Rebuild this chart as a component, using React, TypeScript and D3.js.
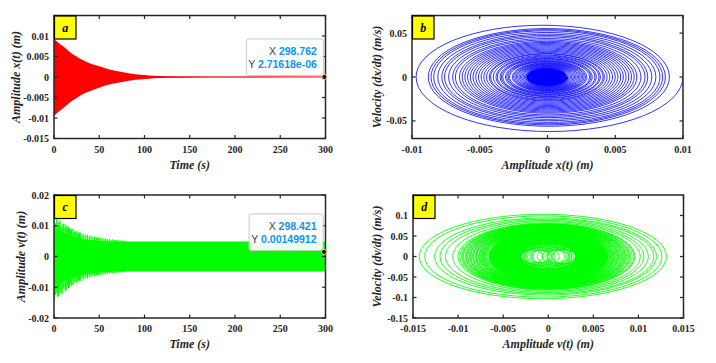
import React from 'react';
import * as d3 from 'd3';

// ---------------- Data ----------------
// Panel a: envelope of x(t)
const aTime = [0, 1, 3, 5, 10, 15, 20, 25, 30, 40, 50, 60, 75, 90, 100, 110, 125, 150, 200, 300];
const aUpper = [0.0093, 0.0091, 0.0087, 0.0083, 0.0075, 0.0066, 0.0057, 0.005, 0.0043, 0.0033, 0.0026, 0.0019, 0.0012, 0.0007, 0.0005, 0.0003, 0.0002, 0.0001, 0.00004, 0.00002];
const aLower = [-0.0096, -0.0093, -0.0089, -0.0085, -0.0076, -0.0067, -0.0058, -0.0051, -0.0044, -0.0034, -0.0026, -0.0019, -0.0012, -0.0007, -0.0005, -0.0003, -0.0002, -0.0001, -0.00004, -0.00002];

// Panel c: solid band of v(t) and spikes of the transient
const cBaseTime = [0, 5, 10, 20, 30, 40, 50, 60, 70, 80, 300];
const cBaseUpper = [0.0085, 0.0084, 0.0078, 0.0066, 0.0058, 0.0054, 0.0051, 0.005, 0.0049, 0.0049, 0.0049];
const cBaseLower = [-0.009, -0.0088, -0.008, -0.0068, -0.006, -0.0055, -0.0052, -0.005, -0.0049, -0.0049, -0.0049];
const cSpikeTime = [0.5, 1.5, 3, 4, 5, 6.5, 7.5, 9, 10, 11, 12.5, 13.5, 15, 16, 17, 18.5, 19.5, 21, 22, 23, 24.5, 25.5, 27, 28, 29, 31, 33, 35, 37, 39, 41, 43, 45, 47, 49, 51, 53, 55, 57, 59, 61, 63, 65, 67, 69, 71, 73, 75, 77, 79];
const cSpikeTop = [0.0101, 0.0108, 0.0124, 0.0103, 0.0112, 0.0118, 0.0099, 0.0098, 0.0107, 0.0106, 0.0094, 0.0101, 0.009, 0.0096, 0.0092, 0.0086, 0.0091, 0.009, 0.0082, 0.008, 0.0084, 0.0079, 0.0076, 0.0079, 0.0078, 0.0071, 0.0074, 0.0068, 0.0071, 0.0066, 0.0068, 0.0063, 0.0065, 0.0061, 0.0063, 0.0059, 0.0061, 0.0057, 0.0059, 0.0056, 0.0057, 0.0054, 0.0056, 0.0053, 0.0054, 0.0052, 0.0053, 0.0051, 0.0052, 0.005];
const cSpikeBottom = [-0.0144, -0.0125, -0.012, -0.0132, -0.0128, -0.011, -0.0118, -0.0122, -0.0106, -0.0102, -0.0112, -0.011, -0.0095, -0.0103, -0.01, -0.0088, -0.0096, -0.0093, -0.0085, -0.0082, -0.0086, -0.0084, -0.0077, -0.0081, -0.008, -0.0072, -0.0075, -0.0069, -0.0071, -0.0066, -0.0068, -0.0063, -0.0065, -0.0061, -0.0062, -0.0059, -0.006, -0.0057, -0.0058, -0.0055, -0.0056, -0.0054, -0.0055, -0.0053, -0.0053, -0.0052, -0.0052, -0.0051, -0.0051, -0.005];

// Panel b: successive turning points |x| of the x-dx/dt spiral (alternately right and left)
const bTurnAmp = [0.01, 0.0097, 0.009, 0.0088, 0.0087, 0.0086, 0.0085, 0.0084, 0.0083, 0.0081, 0.008, 0.0078, 0.0077, 0.0076, 0.0074, 0.0073, 0.0072, 0.007, 0.0069, 0.0068, 0.0066, 0.0065, 0.0064, 0.0063, 0.0062, 0.0061, 0.006, 0.0059, 0.0058, 0.0057, 0.0056, 0.0055, 0.0054, 0.0053, 0.0052, 0.0051, 0.005, 0.0049, 0.0048, 0.0047, 0.0046, 0.0045, 0.0044, 0.0043, 0.0042, 0.0042, 0.0041, 0.004, 0.0039, 0.0038, 0.0038, 0.0037, 0.0036, 0.0035, 0.0035, 0.0034, 0.0033, 0.0033, 0.0032, 0.0031, 0.0031, 0.003, 0.0029, 0.0029, 0.0028, 0.0028, 0.0027, 0.0026, 0.0026, 0.0025, 0.0025, 0.0024, 0.0024, 0.0023, 0.0023, 0.0022, 0.0022, 0.0021, 0.0021, 0.002, 0.002, 0.0019, 0.0019, 0.0018, 0.0018, 0.0017, 0.0017, 0.0016, 0.0016, 0.0016, 0.0015, 0.0015, 0.0014, 0.0014, 0.0014, 0.0013, 0.0013, 0.0013, 0.0012, 0.0012, 0.0012, 0.0011, 0.0011, 0.0011, 0.00105, 0.001, 0.00096, 0.00093, 0.0009, 0.00087, 0.00084, 0.00081, 0.00078, 0.00075, 0.00072, 0.0007, 0.00067, 0.00065, 0.00062, 0.0006, 0.00058, 0.00056, 0.00054, 0.00052, 0.0005, 0.00048, 0.00046, 0.00044, 0.00042, 0.0004, 0.00038, 0.00036, 0.00035, 0.00033, 0.00031, 0.0003, 0.00028, 0.00027, 0.00025, 0.00024, 0.00022, 0.00021, 0.0002, 0.00018, 0.00017, 0.00016, 0.00015, 0.00013, 0.00012, 0.00011, 0.0001, 0.00008, 0.00006, 0.00004];
const bOmega = 6.3;
const bDenseBelow = 0.0016; // turning points below this form the solid core

// Panel d: orbits of the v-dv/dt portrait
const dOuterLeft = [-0.0143, -0.0137, -0.0126, -0.012, -0.0114, -0.0106, -0.01, -0.0095, -0.0091, -0.0087, -0.0083, -0.008, -0.0077, -0.0074, -0.0071];
const dOuterRight = [0.0131, 0.0126, 0.012, 0.0117, 0.0111, 0.0106, 0.0102, 0.0096, 0.0091, 0.0085, 0.0082, 0.0078, 0.0075, 0.0072, 0.0069];
const dOuterV = [0.103, 0.099, 0.094, 0.091, 0.088, 0.085, 0.082, 0.079, 0.077, 0.075, 0.073, 0.071, 0.069, 0.067, 0.065];
const dMidLeft = [-0.0098, -0.0096, -0.0094, -0.0092, -0.009, -0.0089, -0.0087, -0.0086, -0.0084, -0.0083, -0.0081, -0.008, -0.0079, -0.0077, -0.0076, -0.0075, -0.0074, -0.0073, -0.0072, -0.0071, -0.007, -0.0069, -0.0068, -0.0067];
const dMidRight = [0.0095, 0.0093, 0.009, 0.0089, 0.0087, 0.0086, 0.0084, 0.0083, 0.0081, 0.008, 0.0078, 0.0077, 0.0076, 0.0074, 0.0073, 0.0072, 0.0071, 0.007, 0.0069, 0.0068, 0.0067, 0.0066, 0.0066, 0.0065];
const dMidV = [0.08, 0.079, 0.078, 0.077, 0.076, 0.075, 0.074, 0.073, 0.072, 0.072, 0.071, 0.07, 0.069, 0.068, 0.068, 0.067, 0.066, 0.065, 0.065, 0.064, 0.063, 0.063, 0.062, 0.062];
// dense band of the steady beating orbit (packed orbits)
const dBandRx = [0.0065, 0.0064, 0.0063, 0.0062, 0.0061, 0.006, 0.0059, 0.0058, 0.0057, 0.0056, 0.0055, 0.0054, 0.0053, 0.0052, 0.0051, 0.005, 0.0049, 0.0048, 0.0047, 0.0046, 0.0045, 0.0044, 0.0043, 0.0042, 0.0041, 0.004, 0.0039, 0.0038, 0.0037, 0.0036, 0.0035, 0.0034, 0.0033, 0.0032, 0.0031];
const dBandRy = [0.061, 0.061, 0.06, 0.059, 0.058, 0.058, 0.057, 0.056, 0.055, 0.054, 0.053, 0.052, 0.052, 0.051, 0.05, 0.049, 0.048, 0.047, 0.046, 0.046, 0.045, 0.044, 0.043, 0.042, 0.041, 0.04, 0.04, 0.039, 0.038, 0.037, 0.036, 0.035, 0.034, 0.033, 0.032];
const dInnerCx = [-0.0015, -0.0012, -0.0008, -0.0004, 0, 0.0004, 0.0008, 0.0012, 0.0015, -0.001, 0.001, -0.0006, 0.0006, 0.0002, -0.0002, -0.0018, 0.0018, -0.0007, 0.0011, 0.0003, -0.0013, 0.0014];
const dInnerRx = [0.0016, 0.0018, 0.002, 0.0022, 0.0024, 0.0022, 0.002, 0.0018, 0.0016, 0.0013, 0.0013, 0.0026, 0.0026, 0.0028, 0.0028, 0.0012, 0.0014, 0.0011, 0.0012, 0.003, 0.0021, 0.0021];
const dInnerRy = [0.018, 0.02, 0.022, 0.024, 0.027, 0.024, 0.022, 0.02, 0.018, 0.015, 0.015, 0.029, 0.029, 0.031, 0.031, 0.016, 0.017, 0.016, 0.017, 0.032, 0.023, 0.023];

// Ticks
const timeTicks = [0, 50, 100, 150, 200, 250, 300];
const aYTicks = [-0.015, -0.01, -0.005, 0, 0.005, 0.01];
const bXTicks = [-0.01, -0.005, 0, 0.005, 0.01];
const bYTicks = [-0.05, 0, 0.05];
const cYTicks = [-0.02, -0.01, 0, 0.01, 0.02];
const dXTicks = [-0.015, -0.01, -0.005, 0, 0.005, 0.01, 0.015];
const dYTicks = [-0.15, -0.1, -0.05, 0, 0.05, 0.1];

// Data tips
const tipA = { x: 298.762, y: 2.71618e-6, xText: '298.762', yText: '2.71618e-06' };
const tipC = { x: 298.421, y: 0.00149912, xText: '298.421', yText: '0.00149912' };

// ---------------- Drawing ----------------
const SERIF = '"Liberation Serif", "Times New Roman", Times, serif';
const SANS = '"Liberation Sans", Arial, sans-serif';
const INK = '#262626';

type Box = { l: number; r: number; t: number; b: number };
const fmt = (v: number) => String(+v.toFixed(4));

function Axes(props: {
  id: string; box: Box; xDom: [number, number]; yDom: [number, number];
  xTicks: number[]; yTicks: number[]; xLabel: string; yLabel: string; yLabelX: number; tag: string;
  render: (x: d3.ScaleLinear<number, number>, y: d3.ScaleLinear<number, number>) => React.ReactNode;
}) {
  const { id, box, xDom, yDom, xTicks, yTicks, xLabel, yLabel, yLabelX, tag, render } = props;
  const x = d3.scaleLinear().domain(xDom).range([box.l, box.r]);
  const y = d3.scaleLinear().domain(yDom).range([box.b, box.t]);
  const tl = 3.5;
  const cy = (box.t + box.b) / 2;
  return (
    <g>
      <defs>
        <clipPath id={id}>
          <rect x={box.l} y={box.t} width={box.r - box.l} height={box.b - box.t} />
        </clipPath>
      </defs>
      <g clipPath={`url(#${id})`}>{render(x, y)}</g>
      {xTicks.map((v) => (
        <g key={'xt' + v}>
          <line x1={x(v)} x2={x(v)} y1={box.b} y2={box.b - tl} stroke={INK} strokeWidth={1.2} />
          <line x1={x(v)} x2={x(v)} y1={box.t} y2={box.t + tl} stroke={INK} strokeWidth={1.2} />
          <text x={x(v)} y={box.b + 14} textAnchor="middle" fontFamily={SERIF} fontWeight="bold" fontSize={10} fill={INK}>{fmt(v)}</text>
        </g>
      ))}
      {yTicks.map((v) => (
        <g key={'yt' + v}>
          <line x1={box.l} x2={box.l + tl} y1={y(v)} y2={y(v)} stroke={INK} strokeWidth={1.2} />
          <line x1={box.r} x2={box.r - tl} y1={y(v)} y2={y(v)} stroke={INK} strokeWidth={1.2} />
          <text x={box.l - 5} y={y(v) + 3.5} textAnchor="end" fontFamily={SERIF} fontWeight="bold" fontSize={10} fill={INK}>{fmt(v)}</text>
        </g>
      ))}
      <rect x={box.l} y={box.t} width={box.r - box.l} height={box.b - box.t} fill="none" stroke={INK} strokeWidth={1.5} />
      <text x={(box.l + box.r) / 2} y={box.b + 30} textAnchor="middle" fontFamily={SERIF} fontWeight="bold" fontStyle="italic" fontSize={12} fill={INK}>{xLabel}</text>
      <text transform={`translate(${yLabelX},${cy}) rotate(-90)`} textAnchor="middle" dy="0.35em" fontFamily={SERIF} fontWeight="bold" fontStyle="italic" fontSize={12} fill={INK}>{yLabel}</text>
      <rect x={box.l + 0.5} y={box.t + 0.5} width={21.5} height={23} fill="#ffff00" stroke="#000" strokeWidth={1.2} />
      <text x={box.l + 11.2} y={box.t + 16} textAnchor="middle" fontFamily={SERIF} fontWeight="bold" fontStyle="italic" fontSize={12} fill="#000">{tag}</text>
    </g>
  );
}

function DataTip(props: { px: number; py: number; w: number; xText: string; yText: string }) {
  const { px, py, w, xText, yText } = props;
  const bx = px - 1 - w;
  const by = py - 38;
  return (
    <g>
      <rect x={bx} y={by} width={w} height={36.5} rx={2} fill="#ffffff" fillOpacity={0.92} stroke="#c8c8c8" strokeWidth={1} />
      <text x={bx + w - 6.5} y={by + 16.5} textAnchor="end" fontFamily={SANS} fontSize={10.5}>
        <tspan fill="#404040">X </tspan>
        <tspan fill="#0a94f5" fontWeight="bold">{xText}</tspan>
      </text>
      <text x={bx + w - 6.5} y={by + 29} textAnchor="end" fontFamily={SANS} fontSize={10.5}>
        <tspan fill="#404040">Y </tspan>
        <tspan fill="#0a94f5" fontWeight="bold">{yText}</tspan>
      </text>
      <circle cx={px} cy={py} r={2.6} fill="#1e1e1e" stroke="#d8d890" strokeWidth={1} />
    </g>
  );
}

const angles = d3.range(0, 2 * Math.PI + 0.001, Math.PI / 48);
const halfAngles = d3.range(0, Math.PI + 0.001, Math.PI / 32);

function ellipsePath(x: any, y: any, cx: number, rx: number, ry: number) {
  const pts = angles.map((a) => [x(cx + rx * Math.cos(a)), y(ry * Math.sin(a))] as [number, number]);
  return d3.line()(pts) || '';
}

function spiralPath(x: any, y: any, amps: number[], startSign: number) {
  const turns = amps.map((a, i) => (i % 2 === 0 ? startSign * a : -startSign * a));
  const pts: [number, number][] = [];
  for (let k = 0; k < turns.length - 1; k++) {
    const p = turns[k], q = turns[k + 1];
    const c = (p + q) / 2, a = (p - q) / 2;
    halfAngles.forEach((th) => pts.push([x(c + a * Math.cos(th)), y(-bOmega * a * Math.sin(th))]));
  }
  return d3.line()(pts) || '';
}

export default function App() {
  const boxA: Box = { l: 54, r: 325.5, t: 15.5, b: 138.5 };
  const boxB: Box = { l: 412, r: 683, t: 15.5, b: 138.5 };
  const boxC: Box = { l: 54, r: 325.5, t: 195, b: 318 };
  const boxD: Box = { l: 413, r: 683.5, t: 195, b: 318 };

  const splitIdx = bTurnAmp.findIndex((a) => a < bDenseBelow);

  return (
    <svg width={716} height={363} style={{ position: 'absolute', left: 0, top: 0, background: '#fff' }}>
      <rect x={0} y={0} width={716} height={363} fill="#fff" />
      {/* Panel a */}
      <Axes id="ca" box={boxA} xDom={[0, 300]} yDom={[-0.015, 0.015]} xTicks={timeTicks} yTicks={aYTicks}
        xLabel="Time (s)" yLabel="Amplitude x(t) (m)" yLabelX={15.5} tag="a"
        render={(x, y) => {
          const area = d3.area<number>().x((_, i) => x(aTime[i])).y0((_, i) => y(aLower[i])).y1((_, i) => y(aUpper[i])).curve(d3.curveMonotoneX);
          const zero = d3.line<number>().x((t) => x(t)).y(() => y(0));
          return (
            <g>
              <path d={area(aTime) || ''} fill="#ff0000" />
              <path d={zero([0, 300]) || ''} stroke="#ff0000" strokeWidth={1.1} fill="none" />
            </g>
          );
        }} />
      {/* Panel b */}
      <Axes id="cb" box={boxB} xDom={[-0.01, 0.01]} yDom={[-0.07, 0.07]} xTicks={bXTicks} yTicks={bYTicks}
        xLabel="Amplitude x(t) (m)" yLabel="Velocity (dx/dt) (m/s)" yLabelX={376.5} tag="b"
        render={(x, y) => {
          const outer = bTurnAmp.slice(0, splitIdx + 1);
          const inner = bTurnAmp.slice(splitIdx);
          const innerSign = splitIdx % 2 === 0 ? 1 : -1;
          return (
            <g fill="none" stroke="#0000ff">
              <path d={spiralPath(x, y, outer, 1)} strokeWidth={0.8} />
              <path d={spiralPath(x, y, inner, innerSign)} strokeWidth={1.3} />
            </g>
          );
        }} />
      {/* Panel c */}
      <Axes id="cc" box={boxC} xDom={[0, 300]} yDom={[-0.02, 0.02]} xTicks={timeTicks} yTicks={cYTicks}
        xLabel="Time (s)" yLabel="Amplitude v(t) (m)" yLabelX={20.5} tag="c"
        render={(x, y) => {
          const area = d3.area<number>().x((_, i) => x(cBaseTime[i])).y0((_, i) => y(cBaseLower[i])).y1((_, i) => y(cBaseUpper[i])).curve(d3.curveMonotoneX);
          return (
            <g>
              <path d={area(cBaseTime) || ''} fill="#00ff00" />
              {cSpikeTime.map((t, i) => (
                <line key={i} x1={x(t)} x2={x(t)} y1={y(cSpikeBottom[i])} y2={y(cSpikeTop[i])} stroke="#00ff00" strokeWidth={1.2} />
              ))}
            </g>
          );
        }} />
      {/* Panel d */}
      <Axes id="cd" box={boxD} xDom={[-0.015, 0.015]} yDom={[-0.15, 0.15]} xTicks={dXTicks} yTicks={dYTicks}
        xLabel="Amplitude v(t) (m)" yLabel="Velocity (dv/dt) (m/s)" yLabelX={376.5} tag="d"
        render={(x, y) => (
          <g fill="none" stroke="#00ff00">
            <g strokeWidth={0.85}>
              {dOuterLeft.map((l, i) => (
                <path key={'o' + i} d={ellipsePath(x, y, (l + dOuterRight[i]) / 2, (dOuterRight[i] - l) / 2, dOuterV[i])} />
              ))}
              {dMidLeft.map((l, i) => (
                <path key={'m' + i} d={ellipsePath(x, y, (l + dMidRight[i]) / 2, (dMidRight[i] - l) / 2, dMidV[i])} />
              ))}
            </g>
            <g strokeWidth={2}>
              {dBandRx.map((r, i) => (
                <path key={'b' + i} d={ellipsePath(x, y, 0, r, dBandRy[i])} />
              ))}
            </g>
            <g strokeWidth={0.85}>
              {dInnerCx.map((c, i) => (
                <path key={'i' + i} d={ellipsePath(x, y, c, dInnerRx[i], dInnerRy[i])} />
              ))}
            </g>
          </g>
        )} />
      {/* Data tips */}
      {(() => {
        const xa = d3.scaleLinear().domain([0, 300]).range([boxA.l, boxA.r]);
        const ya = d3.scaleLinear().domain([-0.015, 0.015]).range([boxA.b, boxA.t]);
        const yc = d3.scaleLinear().domain([-0.02, 0.02]).range([boxC.b, boxC.t]);
        const xc = d3.scaleLinear().domain([0, 300]).range([boxC.l, boxC.r]);
        return (
          <g>
            <DataTip px={xa(tipA.x)} py={ya(tipA.y)} w={77} xText={tipA.xText} yText={tipA.yText} />
            <DataTip px={xc(tipC.x)} py={yc(tipC.y)} w={74} xText={tipC.xText} yText={tipC.yText} />
          </g>
        );
      })()}
    </svg>
  );
}
